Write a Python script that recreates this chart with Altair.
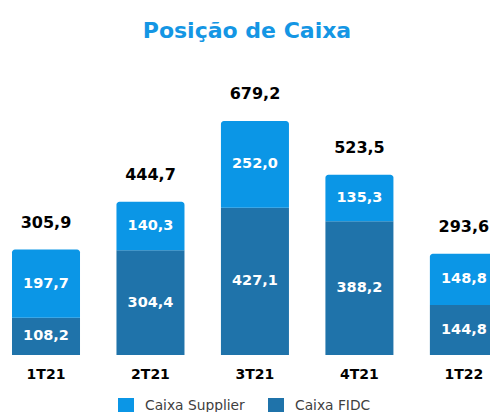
import altair as alt
import pandas as pd

categories = ["1T21", "2T21", "3T21", "4T21", "1T22"]
fidc = [108.2, 304.4, 427.1, 388.2, 144.8]
supplier = [197.7, 140.3, 252.0, 135.3, 148.8]
totals = [305.9, 444.7, 679.2, 523.5, 293.6]
series_names = ["Caixa Supplier", "Caixa FIDC"]
colors = ["#0b96e6", "#1f73aa"]
FONT = "DejaVu Sans"


def fmt(v):
    return f"{v:.1f}".replace(".", ",")


rows = []
for c, f, s in zip(categories, fidc, supplier):
    rows.append(dict(cat=c, series="Caixa FIDC", y0=0.0, y1=f, mid=f / 2, label=fmt(f)))
    rows.append(dict(cat=c, series="Caixa Supplier", y0=f, y1=f + s, mid=f + s / 2, label=fmt(s)))
df = pd.DataFrame(rows)
tot = pd.DataFrame(dict(cat=categories, total=totals, label=[fmt(t) for t in totals]))

x = alt.X(
    "cat:N",
    sort=categories,
    scale=alt.Scale(range=[4, 489.9], paddingInner=0.349, paddingOuter=0),
    axis=alt.Axis(
        title=None, labelAngle=0, domain=False, ticks=False, tickSize=0,
        labelPadding=12, labelFontSize=14, labelFontWeight="bold",
        labelColor="black", labelFont=FONT,
    ),
)
yscale = alt.Scale(domain=[0, 856.3], nice=False, zero=True)
color = alt.Color(
    "series:N",
    scale=alt.Scale(domain=series_names, range=colors),
    legend=alt.Legend(
        title=None, orient="none", direction="horizontal", legendX=110, legendY=338,
        symbolType="square", symbolSize=256, symbolStrokeWidth=0,
        labelFontSize=13.8, labelColor="#404040", labelOffset=11,
        columnPadding=23, labelFont=FONT,
    ),
)

base = alt.Chart(df)
bottom = base.transform_filter(alt.datum.series == "Caixa FIDC").mark_bar().encode(
    x=x, y=alt.Y("y1:Q", scale=yscale, axis=None), y2="y0:Q", color=color
)
top = base.transform_filter(alt.datum.series == "Caixa Supplier").mark_bar(
    cornerRadiusTopLeft=3, cornerRadiusTopRight=3
).encode(
    x=x, y=alt.Y("y1:Q", scale=yscale, axis=None), y2="y0:Q", color=color
)
inner = base.mark_text(
    color="white", fontWeight="bold", fontSize=14.5, font=FONT, baseline="middle"
).encode(x=x, y=alt.Y("mid:Q", scale=yscale, axis=None), text="label:N")
totals_text = alt.Chart(tot).mark_text(
    color="black", fontWeight="bold", fontSize=16, font=FONT, baseline="alphabetic", dy=-22
).encode(x=x, y=alt.Y("total:Q", scale=yscale, axis=None), text="label:N")

chart = alt.layer(bottom, top, inner, totals_text).properties(
    width=482,
    height=295,
    padding={"left": 0, "right": 0, "top": 52, "bottom": 57},
    autosize=alt.AutoSizeParams(type="none"),
    title=alt.TitleParams(
        "Posição de Caixa", fontSize=22, font=FONT, fontWeight="bold",
        color="#1496e4", anchor="middle", baseline="alphabetic", offset=0, dx=-2,
    ),
    background="white",
).configure_view(stroke=None)

chart.save("out.html", embed_options={"renderer": "svg", "actions": False})
